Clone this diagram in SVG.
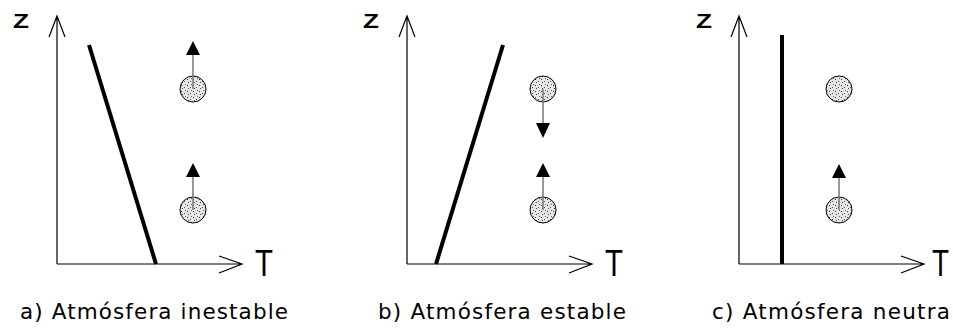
<svg xmlns="http://www.w3.org/2000/svg" width="953" height="328" viewBox="0 0 953 328">
<style>
.axis{stroke:#000;stroke-width:1.2;fill:none}
.prof{stroke:#000;stroke-width:4;fill:none}
.move{stroke:#777;stroke-width:1.5;fill:none}
.head{fill:#000;stroke:none}
.parcel{fill:url(#dots);stroke:#000;stroke-width:1}
.z{font-family:"Liberation Sans",Arial,sans-serif;font-size:21px;font-weight:bold;fill:#000}
.t{font-family:"Liberation Sans",Arial,sans-serif;font-size:37px;fill:#000}
.cap{font-family:"DejaVu Sans",Verdana,sans-serif;font-size:21.5px;fill:#000}
</style>
<defs>
<pattern id="dots" width="6" height="6" patternUnits="userSpaceOnUse">
<rect width="6" height="6" fill="#e6e6e6"/>
<rect x="1" y="1" width="1" height="1" fill="#333"/>
<rect x="4" y="3" width="1" height="1" fill="#555"/>
<rect x="2" y="4" width="1" height="1" fill="#444"/>
<rect x="5" y="0" width="1" height="1" fill="#666"/>
</pattern>
</defs>
<g id="panel-a">
<path class="axis" d="M57,264 V16 M49,37 L57,16 L65,37 M57,264 H242 M219,256 L242,264 L219,273"/>
<text class="z" x="13" y="28" textLength="16" lengthAdjust="spacingAndGlyphs">Z</text>
<text class="t" x="255" y="276" textLength="18" lengthAdjust="spacingAndGlyphs">T</text>
<line class="prof" x1="89" y1="45" x2="156" y2="264"/>
<circle class="parcel" cx="193" cy="89" r="13"/>
<circle class="parcel" cx="193" cy="210" r="13"/>
<line class="move" x1="193" y1="89" x2="193" y2="55"/>
<polygon class="head" points="186,55 200,55 193,41"/>
<line class="move" x1="193" y1="210" x2="193" y2="177"/>
<polygon class="head" points="186,177 200,177 193,163"/>
<text class="cap" x="20" y="319" textLength="268" lengthAdjust="spacing">a) Atmósfera inestable</text>
</g>
<g id="panel-b">
<path class="axis" d="M407,264 V16 M399,37 L407,16 L415,37 M407,264 H592 M569,256 L592,264 L569,273"/>
<text class="z" x="363" y="28" textLength="16" lengthAdjust="spacingAndGlyphs">Z</text>
<text class="t" x="605" y="276" textLength="18" lengthAdjust="spacingAndGlyphs">T</text>
<line class="prof" x1="436" y1="264" x2="503" y2="45"/>
<circle class="parcel" cx="543" cy="89" r="13"/>
<circle class="parcel" cx="543" cy="210" r="13"/>
<line class="move" x1="543" y1="89" x2="543" y2="124"/>
<polygon class="head" points="536,123 550,123 543,138"/>
<line class="move" x1="543" y1="210" x2="543" y2="177"/>
<polygon class="head" points="536,177 550,177 543,163"/>
<text class="cap" x="378" y="319" textLength="248" lengthAdjust="spacing">b) Atmósfera estable</text>
</g>
<g id="panel-c">
<path class="axis" d="M739,264 V16 M731,37 L739,16 L747,37 M739,264 H924 M901,256 L924,264 L901,273"/>
<text class="z" x="696" y="28" textLength="16" lengthAdjust="spacingAndGlyphs">Z</text>
<text class="t" x="932" y="276" textLength="17" lengthAdjust="spacingAndGlyphs">T</text>
<line class="prof" x1="782" y1="35" x2="782" y2="264"/>
<circle class="parcel" cx="839" cy="89" r="13"/>
<circle class="parcel" cx="839" cy="210" r="13"/>
<line class="move" x1="839" y1="210" x2="839" y2="178"/>
<polygon class="head" points="832,178 846,178 839,164"/>
<text class="cap" x="712" y="319" textLength="238" lengthAdjust="spacing">c) Atmósfera neutra</text>
</g>
</svg>
